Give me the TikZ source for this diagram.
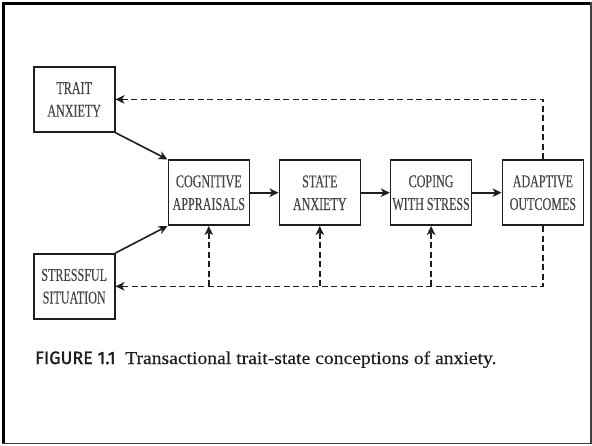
\documentclass[tikz,border=0pt]{standalone}
\usepackage{fontspec}
\usetikzlibrary{arrows.meta}
\newfontfamily\boxfont[FakeStretch=0.67,FakeBold=0.3]{Liberation Serif}
\newfontfamily\capfont[FakeStretch=1.09,FakeBold=0.3]{Liberation Serif}
\newfontfamily\figfont[FakeBold=1.6]{Fira Sans}
\definecolor{linec}{HTML}{1E1E1E}
\definecolor{textc}{HTML}{454545}
\definecolor{captc}{HTML}{1E1E1E}
\begin{document}
\begin{tikzpicture}[x=1pt,y=-1pt,
  box/.style={draw=linec, line width=1.6pt, minimum width=81pt, minimum height=65pt,
    inner sep=0pt, align=center, font=\boxfont\fontsize{18}{22.7}\selectfont, text=textc},
  tip/.style={-{Stealth[length=9pt,width=8.5pt,inset=2.5pt]}},
  solidarrow/.style={draw=linec, line width=1.6pt, tip},
  dasharrow/.style={draw=linec, line width=1.4pt, dash pattern=on 6pt off 3.5pt, tip},
  framethick/.style={fill=black},
  framethin/.style={fill=black!75}]
\useasboundingbox (0,0) rectangle (592,445);
% outer frame
\fill[framethick] (1.7,1.7) rectangle (591.7,5);
\fill[framethick] (1.7,1.7) rectangle (5,444.4);
\fill[framethin] (590.3,1.7) rectangle (591.7,444.4);
\fill[framethin] (1.7,443) rectangle (591.7,444.4);
% boxes
\node[box] (trait) at (74.2,99.4) {TRAIT\\ANXIETY};
\node[box] (stress) at (74.2,286.3) {STRESSFUL\\SITUATION};
\node[box] (cog) at (208.8,192.7) {COGNITIVE\\APPRAISALS};
\node[box] (state) at (319.8,192.7) {STATE\\ANXIETY};
\node[box] (coping) at (431.1,192.7) {COPING\\WITH STRESS};
\node[box] (adapt) at (542.9,192.7) {ADAPTIVE\\OUTCOMES};
% solid arrows
\draw[solidarrow] (trait.south east) -- (cog.north west);
\draw[solidarrow] (stress.north east) -- (cog.south west);
\draw[solidarrow] (cog) -- (state);
\draw[solidarrow] (state) -- (coping);
\draw[solidarrow] (coping) -- (adapt);
% feedback loops
\draw[dasharrow] (adapt.north) |- (trait.east);
\draw[dasharrow] (adapt.south) |- (stress.east);
\coordinate (jc) at (cog.south |- stress.east);
\coordinate (js) at (state.south |- stress.east);
\coordinate (jp) at (coping.south |- stress.east);
\draw[dasharrow] (jc) -- (cog.south);
\draw[dasharrow] (js) -- (state.south);
\draw[dasharrow] (jp) -- (coping.south);
% caption
\node[anchor=base west, inner sep=0pt, font=\figfont\fontsize{17.9}{20}\selectfont, text=captc] (figlab) at (35,364) {FIGURE 1.1};
\node[anchor=base west, inner sep=0pt, font=\capfont\fontsize{18}{20}\selectfont, text=captc] (captext) at (125,364) {Transactional trait-state conceptions of anxiety.};
\end{tikzpicture}
\end{document}
